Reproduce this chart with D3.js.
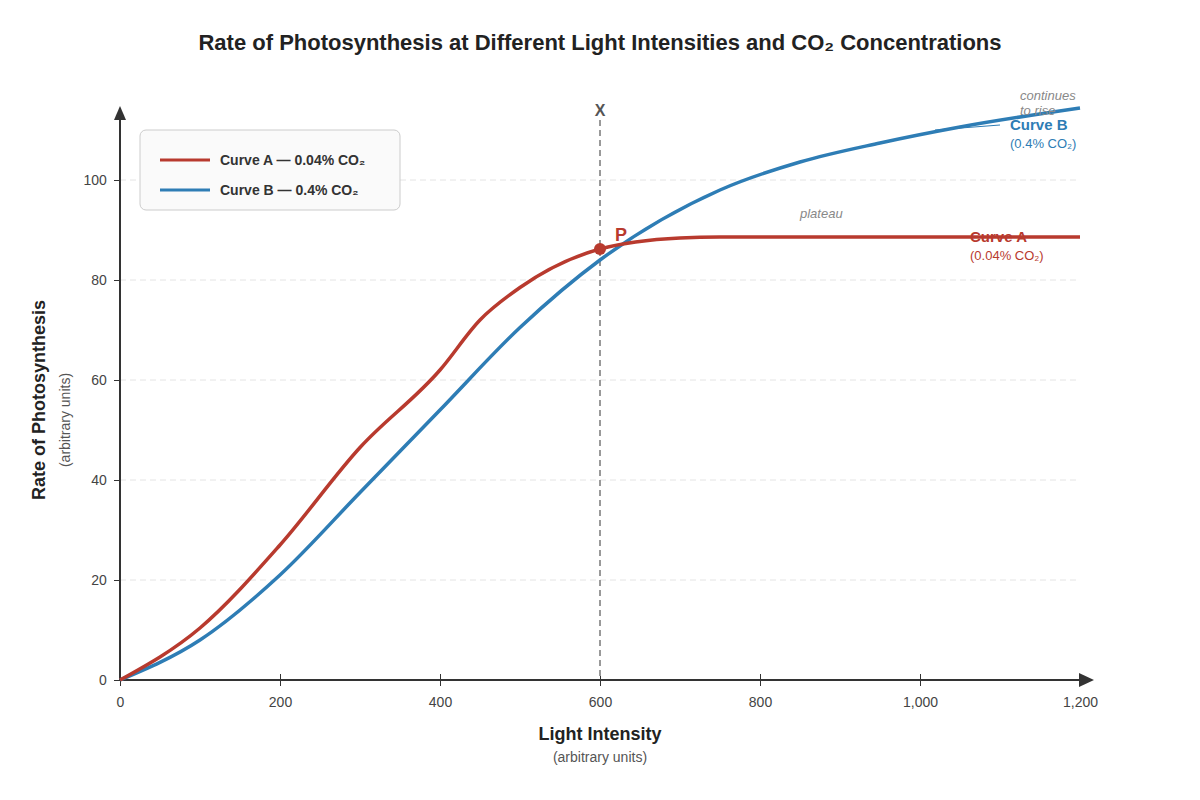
<!DOCTYPE html>
<html>
<head>
<meta charset="utf-8">
<script src="https://cdn.jsdelivr.net/npm/d3@7"></script>
<style>
  body { margin: 0; background: #fff; }
  text { font-family: "Liberation Sans", Arial, sans-serif; }
</style>
</head>
<body>
<svg id="chart" width="1200" height="800"></svg>
<script>
// data
var xTicks = [0, 200, 400, 600, 800, 1000, 1200];
var yTicks = [0, 20, 40, 60, 80, 100];
var curveA = [[0,0],[100,10.4],[200,27],[300,46.5],[400,62],[450,72],[500,78.5],[600,86.2],[700,88.4],[750,88.6],[1200,88.6]];
var curveB = [[0,0],[100,8],[200,21],[300,37.5],[400,54],[500,70.5],[600,84],[750,98],[850,103.6],[950,107.4],[1050,110.6],[1200,114.4]];
var pointP = [600, 86.2];

var red = "#b83a2e", blue = "#2e7db5";
var svg = d3.select("#chart");
var x = d3.scaleLinear().domain([0, 1200]).range([120, 1080]);
var y = d3.scaleLinear().domain([0, 100]).range([680, 180]);

svg.append("text").attr("x", 600).attr("y", 50).attr("text-anchor", "middle")
  .attr("font-size", 22).attr("font-weight", "bold").attr("fill", "#222")
  .text("Rate of Photosynthesis at Different Light Intensities and CO₂ Concentrations");

// grid
svg.selectAll(".grid").data(yTicks.slice(1)).enter().append("line")
  .attr("x1", 120).attr("x2", 1080).attr("y1", y).attr("y2", y)
  .attr("stroke", "#e4e4e4").attr("stroke-dasharray", "6,4");

// axes
var xAxis = svg.append("g").attr("transform", "translate(0,680)")
  .call(d3.axisBottom(x).tickValues(xTicks).tickSize(6).tickSizeOuter(0));
xAxis.selectAll("text").attr("font-size", 14).attr("fill", "#444").attr("dy", "1.3em");
xAxis.selectAll(".tick line").attr("y1", -6).attr("y2", 6).attr("stroke", "#333");
xAxis.select(".domain").remove();
var yAxis = svg.append("g").attr("transform", "translate(120,0)")
  .call(d3.axisLeft(y).tickValues(yTicks).tickSizeOuter(0));
yAxis.selectAll("text").attr("font-size", 14).attr("fill", "#444").attr("dx", "-0.3em");
yAxis.selectAll(".tick line").attr("x1", -6).attr("x2", 0).attr("stroke", "#333");
yAxis.select(".domain").remove();
svg.append("line").attr("x1", 120).attr("x2", 1082).attr("y1", 680).attr("y2", 680).attr("stroke", "#333").attr("stroke-width", 2);
svg.append("line").attr("x1", 120).attr("x2", 120).attr("y1", 680).attr("y2", 118).attr("stroke", "#333").attr("stroke-width", 2);
svg.append("path").attr("d", "M1094,680 L1079,673 L1079,687 Z").attr("fill", "#333");
svg.append("path").attr("d", "M120,106 L114,120 L126,120 Z").attr("fill", "#333");

// axis titles
svg.append("text").attr("x", 600).attr("y", 740).attr("text-anchor", "middle").attr("font-size", 18).attr("font-weight", "bold").attr("fill", "#222").text("Light Intensity");
svg.append("text").attr("x", 600).attr("y", 762).attr("text-anchor", "middle").attr("font-size", 14).attr("fill", "#555").text("(arbitrary units)");
svg.append("text").attr("transform", "translate(45,400) rotate(-90)").attr("text-anchor", "middle").attr("font-size", 18).attr("font-weight", "bold").attr("fill", "#222").text("Rate of Photosynthesis");
svg.append("text").attr("transform", "translate(70,420) rotate(-90)").attr("text-anchor", "middle").attr("font-size", 14).attr("fill", "#555").text("(arbitrary units)");

// X line
svg.append("line").attr("x1", x(600)).attr("x2", x(600)).attr("y1", 120).attr("y2", 680)
  .attr("stroke", "#999").attr("stroke-width", 2).attr("stroke-dasharray", "6,4");
svg.append("text").attr("x", x(600)).attr("y", 116).attr("text-anchor", "middle").attr("font-size", 16).attr("font-weight", "bold").attr("fill", "#555").text("X");

var line = d3.line().x(function(d){ return x(d[0]); }).y(function(d){ return y(d[1]); }).curve(d3.curveMonotoneX);
svg.append("path").datum(curveB).attr("d", line).attr("fill", "none").attr("stroke", blue).attr("stroke-width", 3.5);
svg.append("path").datum(curveA).attr("d", line).attr("fill", "none").attr("stroke", red).attr("stroke-width", 3.5);

svg.append("circle").attr("cx", x(pointP[0])).attr("cy", y(pointP[1])).attr("r", 6).attr("fill", red);
svg.append("text").attr("x", 615).attr("y", 241).attr("font-size", 18).attr("font-weight", "bold").attr("fill", red).text("P");

// annotations
svg.append("text").attr("x", 800).attr("y", 218).attr("font-size", 13).attr("font-style", "italic").attr("fill", "#888").text("plateau");
svg.append("text").attr("x", 970).attr("y", 242).attr("font-size", 15).attr("font-weight", "bold").attr("fill", red).text("Curve A");
svg.append("text").attr("x", 970).attr("y", 260).attr("font-size", 13).attr("fill", red).text("(0.04% CO₂)");
svg.append("text").attr("x", 1020).attr("y", 100).attr("font-size", 13).attr("font-style", "italic").attr("fill", "#888").text("continues");
svg.append("text").attr("x", 1020).attr("y", 115).attr("font-size", 13).attr("font-style", "italic").attr("fill", "#888").text("to rise");
svg.append("line").attr("x1", 935).attr("y1", 130).attr("x2", 1000).attr("y2", 125).attr("stroke", blue).attr("stroke-width", 1);
svg.append("text").attr("x", 1010).attr("y", 130).attr("font-size", 15).attr("font-weight", "bold").attr("fill", blue).text("Curve B");
svg.append("text").attr("x", 1010).attr("y", 148).attr("font-size", 13).attr("fill", blue).text("(0.4% CO₂)");

// legend
var lg = svg.append("g");
lg.append("rect").attr("x", 140).attr("y", 130).attr("width", 260).attr("height", 80).attr("rx", 6)
  .attr("fill", "#fafafa").attr("stroke", "#ccc");
[["Curve A — 0.04% CO₂", red], ["Curve B — 0.4% CO₂", blue]].forEach(function(d, i){
  lg.append("line").attr("x1", 160).attr("x2", 210).attr("y1", 160 + i*30).attr("y2", 160 + i*30).attr("stroke", d[1]).attr("stroke-width", 3);
  lg.append("text").attr("x", 220).attr("y", 165 + i*30).attr("font-size", 14).attr("font-weight", "bold").attr("fill", "#333").text(d[0]);
});
</script>
</body>
</html>
